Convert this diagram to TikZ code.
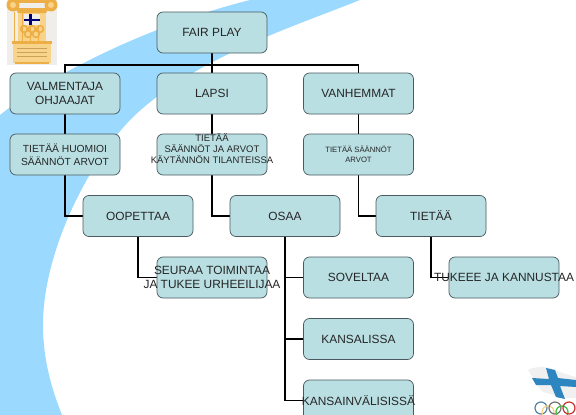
\documentclass[tikz,border=0pt]{standalone}
\usepackage{fontspec}
\setmainfont{Liberation Sans}
\pgfdeclarelayer{bandlayer}
\pgfdeclarelayer{connlayer}
\pgfsetlayers{bandlayer,connlayer,main}
\definecolor{bandblue}{HTML}{9BD9FF}
\definecolor{boxfill}{HTML}{B9DFE3}
\definecolor{boxline}{HTML}{4A5A60}
\definecolor{gold}{HTML}{F8D48A}
\definecolor{goldd}{HTML}{EDAF45}
\definecolor{logobg}{HTML}{EFEEEA}
\definecolor{flagblue}{HTML}{2E86C1}
\newcommand{\szA}{\fontsize{11.9}{14}\selectfont}
\newcommand{\szB}{\fontsize{10.3}{13}\selectfont}
\newcommand{\szC}{\fontsize{9.5}{11}\selectfont}
\newcommand{\szD}{\fontsize{7.7}{10}\selectfont}
\newcommand{\ctrln}[1]{\makebox[0pt][c]{#1}}
\tikzset{
  x=1pt,y=-1pt,
  orgbox/.style={draw=boxline,line width=0.7pt,fill=boxfill,rounded corners=6pt,
    minimum width=110pt,minimum height=41pt,inner sep=0pt,align=center,
    text=black!85,font=\szA,anchor=center},
  conn/.style={draw=black,line width=1.6pt,line join=miter},
}
\begin{document}
\begin{tikzpicture}
\useasboundingbox (0,0) rectangle (576,415);
\begin{pgfonlayer}{bandlayer}
  \fill[white] (0,0) rectangle (576,415);
  \fill[bandblue] (0,115) .. controls (50,75) and (150,25) .. (250,0)
    -- (360,0) .. controls (290,28) and (195,58) .. (133,117)
    .. controls (90,160) and (43,250) .. (43,325)
    .. controls (43,360) and (52,390) .. (62,415)
    -- (0,415) -- cycle;
\end{pgfonlayer}

% boxes
\node[orgbox] (fair) at (212,32.5) {FAIR PLAY};
\node[orgbox] (val) at (65,93.5) {\ctrln{VALMENTAJA}\\\ctrln{OHJAAJAT}};
\node[orgbox] (lapsi) at (212,93.5) {LAPSI};
\node[orgbox] (van) at (358.5,93.5) {VANHEMMAT};
\node[orgbox,font=\szB] (tval) at (65,154.5) {\ctrln{TIETÄÄ HUOMIOI}\\\ctrln{SÄÄNNÖT ARVOT}};
\node[orgbox] (tlapsi) at (212,154.5) {};
\node[font=\szC,align=center,text=black!85,inner sep=0pt] (tlapsitxt) at (212,149) {TIETÄÄ\\SÄÄNNÖT JA ARVOT\\KÄYTÄNNÖN TILANTEISSA};
\node[orgbox,font=\szD] (tvan) at (358.5,154.5) {\ctrln{TIETÄÄ SÄÄNNÖT}\\\ctrln{ARVOT}};
\node[orgbox] (oop) at (138,216) {OOPETTAA};
\node[orgbox] (osaa) at (285,216) {OSAA};
\node[orgbox] (tie) at (431,216) {TIETÄÄ};
\node[orgbox] (seu) at (212,277.5) {\ctrln{SEURAA TOIMINTAA}\\\ctrln{JA TUKEE URHEEILIJAA}};
\node[orgbox] (sov) at (358.5,277.5) {SOVELTAA};
\node[orgbox] (tuk) at (504,277.5) {\ctrln{TUKEEE JA KANNUSTAA}};
\node[orgbox] (kan) at (358.5,339) {KANSALISSA};
\node[orgbox] (kv) at (358.5,400.5) {\ctrln{KANSAINVÄLISISSÄ}};

% connectors
\begin{pgfonlayer}{connlayer}
  \draw[conn] (fair.south) -- (lapsi.north);
  \draw[conn] (val.north) -- (65,65) -- (358.5,65) -- (van.north);
  \draw[conn] (val.south) -- (tval.north);
  \draw[conn] (lapsi.south) -- (tlapsi.north);
  \draw[conn] (van.south) -- (tvan.north);
  \draw[conn] (tval.south) |- (oop.west);
  \draw[conn] (tlapsi.south) |- (osaa.west);
  \draw[conn] (tvan.south) |- (tie.west);
  \draw[conn] (oop.south) |- (seu.west);
  \draw[conn] (tie.south) |- (tuk.west);
  \draw[conn] (osaa.south) |- (sov.west);
  \draw[conn] (osaa.south) |- (kan.west);
  \draw[conn] (osaa.south) |- (kv.west);
\end{pgfonlayer}

% top-left logo
\fill[logobg] (7,0) rectangle (57,65);
\fill[gold] (18,8) rectangle (46,42);
\fill[gold] (13,42) rectangle (51,63);
\fill[goldd] (12,41) rectangle (52,44);
\fill[goldd] (15,61.5) rectangle (49,63.5);
\fill[goldd] (15,8) -- (49,8) -- (46,13) -- (18,13) -- cycle;
\fill[goldd] (12,0) rectangle (52,3);
\fill[goldd] (13,5) circle (6.5);
\fill[goldd] (51,5) circle (6.5);
\fill[gold] (13,5) circle (3);
\fill[gold] (51,5) circle (3);
\foreach \q in {14,22,30,38}{\draw[goldd,line width=0.8pt] (\q,12) -- (\q,41);}
\fill[logobg] (24,14) rectangle (40,25);
\fill[blue!45!black] (24,18.5) rectangle (40,21);
\fill[blue!45!black] (28.5,14) rectangle (31.5,25);
\foreach \p/\q in {24/29,32/29,40/29,28/34,36/34}{\draw[goldd,line width=1.6pt] (\p,\q) circle (3.4);}
\foreach \q in {48,52,56}{\draw[goldd!70!gray,line width=0.8pt] (17,\q) -- (47,\q);}

% bottom-right logo
\fill[black!6] (528,370) .. controls (535,366) and (545,367) .. (550,368)
  .. controls (560,372) and (568,375) .. (576,377) -- (576,398)
  .. controls (565,399) and (550,394) .. (543,392) -- (537,385) -- cycle;
\fill[flagblue] (546,368) -- (555,370) -- (558,378) -- (576,380) -- (576,387)
  -- (560,386) -- (565,399) -- (556,397) -- (551,385) -- (536,385) -- (532,378) -- (549,379) -- cycle;
\draw[flagblue!50!gray,line width=1.2pt] (541,408) circle (6);
\draw[gold,line width=1.2pt] (548,412) circle (6);
\draw[black!55,line width=1.2pt] (555,408) circle (6);
\draw[green!50!gray,line width=1.2pt] (562,412) circle (6);
\draw[red!60!gray,line width=1.2pt] (569,408) circle (6);
\end{tikzpicture}
\end{document}
